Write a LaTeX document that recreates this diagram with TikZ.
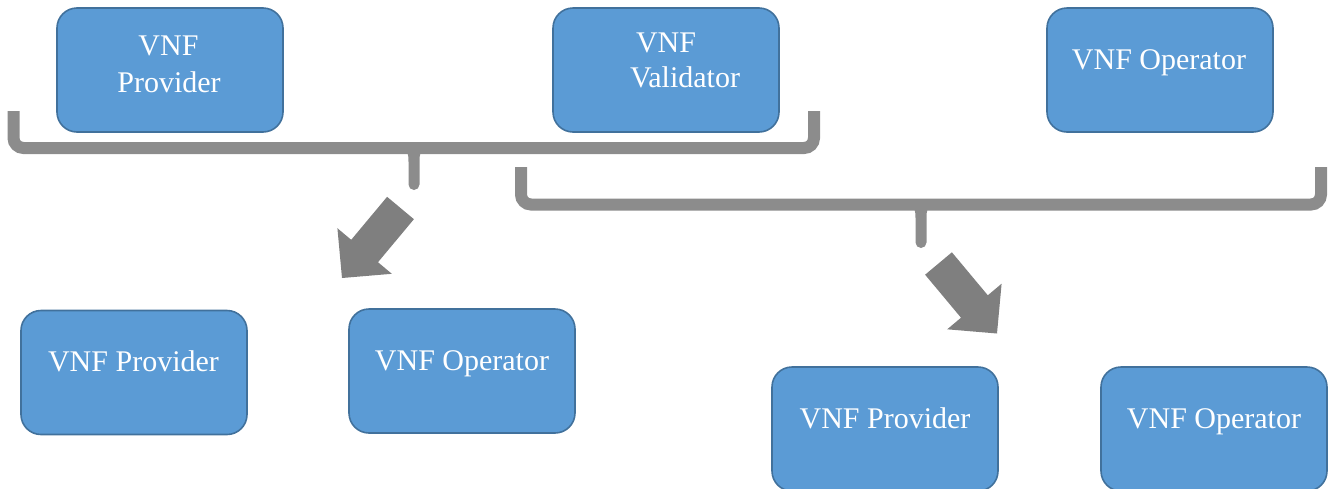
\documentclass[tikz,border=0pt]{standalone}
\usepackage{fontspec}
\setmainfont{Liberation Serif}
\definecolor{boxfill}{HTML}{5B9BD5}
\definecolor{boxline}{HTML}{41719C}
\definecolor{bracegray}{HTML}{8C8C8C}
\definecolor{arrowgray}{HTML}{7F7F7F}
\tikzset{
  box/.style={draw=boxline, fill=boxfill, line width=1.6pt, rounded corners=20pt,
    minimum width=226pt, minimum height=124pt, inner sep=0pt},
  txt/.style={text=white, font=\fontsize{30}{36}\selectfont, anchor=base, inner sep=0pt},
  bracebar/.style={draw=bracegray, line width=12pt, rounded corners=10pt, line cap=butt},
  bracetip/.style={fill=bracegray},
  blockarrow/.style={fill=arrowgray},
}
\begin{document}
\begin{tikzpicture}[x=1pt,y=-1pt]
\useasboundingbox (0,0) rectangle (1333,488);
\clip (0,0) rectangle (1333,488);

% boxes
\node[box] (b1) at (170,70) {};
\node[box] (b2) at (666,70) {};
\node[box] (b3) at (1160,70) {};
\node[box] (b4) at (134,372.5) {};
\node[box] (b5) at (462,371) {};
\node[box] (b6) at (885,429) {};
\node[box] (b7) at (1214,429) {};

% texts
\node[txt] (t1a) at (168.5,55) {VNF};
\node[txt] (t1b) at (169,92) {Provider};
\node[txt] (t2a) at (666,52) {VNF};
\node[txt] (t2b) at (685,87) {Validator};
\node[txt] (t3) at (1159,69) {VNF Operator};
\node[txt] (t4) at (133.5,371) {VNF Provider};
\node[txt] (t5) at (462,370) {VNF Operator};
\node[txt] (t6) at (885,428) {VNF Provider};
\node[txt] (t7) at (1214,428) {VNF Operator};

% brace 1
\draw[bracebar] (13.5,111) -- (13.5,148) -- (814,148) -- (814,111);
\fill[bracetip] (402,150) .. controls (408,150) and (408.5,154) .. (408.5,162) -- (408.5,184.5)
  arc[start angle=180, end angle=360, radius=5.5pt] -- (419.5,162)
  .. controls (419.5,154) and (420,150) .. (426,150) -- cycle;

% brace 2
\draw[bracebar] (521,167) -- (521,204.5) -- (1321,204.5) -- (1321,167);
\fill[bracetip] (909,206.5) .. controls (915,206.5) and (915.5,210.5) .. (915.5,218.5) -- (915.5,242.5)
  arc[start angle=180, end angle=360, radius=5.5pt] -- (926.5,218.5)
  .. controls (926.5,210.5) and (927,206.5) .. (933,206.5) -- cycle;

% block arrows
\fill[blockarrow] (387.1,196.8) -- (413.9,219.2) -- (378.0,262.2) -- (391.8,273.8)
  -- (342,278) -- (337.4,228.2) -- (351.2,239.8) -- cycle;
\fill[blockarrow] (925.1,274.7) -- (951.9,252.3) -- (987.8,295.3) -- (1001.6,283.7)
  -- (997,333.5) -- (947.2,329.3) -- (961.0,317.7) -- cycle;
\end{tikzpicture}
\end{document}
